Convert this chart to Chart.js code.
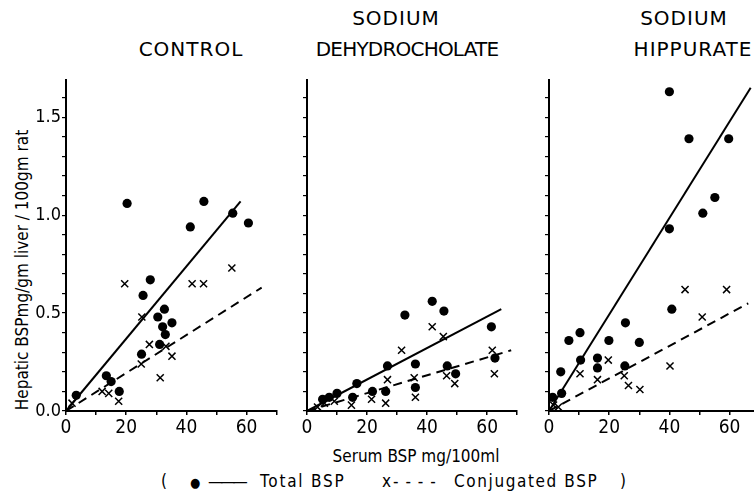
<!DOCTYPE html>
<html>
<head>
<meta charset="utf-8">
<script src="https://cdn.jsdelivr.net/npm/chart.js@4.4.1/dist/chart.umd.min.js"></script>
<style>
  html, body { margin: 0; padding: 0; background: #fff; }
  body { width: 754px; height: 496px; position: relative; overflow: hidden; color: #000;
         font-family: 'DejaVu Sans Condensed', 'Liberation Sans Narrow', 'DejaVu Sans', sans-serif; }
  canvas { position: absolute; top: 0; }
  .ttl { position: absolute; width: 240px; text-align: center; font-family: 'DejaVu Sans', sans-serif;
         font-size: 20px; line-height: 20px; letter-spacing: 1px; white-space: nowrap; }
  .ylab { position: absolute; width: 340px; height: 20px; line-height: 20px; text-align: center;
          font-size: 17px; white-space: nowrap; transform: rotate(-90deg); }
  .xlab { position: absolute; width: 300px; text-align: center; font-size: 17px; line-height: 18px; white-space: nowrap; }
  .leg { position: absolute; top: 472px; font-size: 17px; line-height: 18px; white-space: pre; letter-spacing: 0.6px; }
</style>
</head>
<body>
<div class="ttl" style="left:71px;top:39px">CONTROL</div>
<div class="ttl" style="left:276px;top:8px">SODIUM</div>
<div class="ttl" style="left:287px;top:39px;letter-spacing:-0.8px">DEHYDROCHOLATE</div>
<div class="ttl" style="left:564px;top:8px">SODIUM</div>
<div class="ttl" style="left:573px;top:39px">HIPPURATE</div>
<div class="ylab" style="left:-148px;top:260px">Hepatic BSPmg/gm liver / 100gm rat</div>
<div class="xlab" style="left:266px;top:447px">Serum BSP mg/100ml</div>
<span class="leg" style="left:161px">(</span>
<span class="leg" style="left:190px;font-size:13px;top:474px">●</span>
<span class="leg" style="left:208px;letter-spacing:-3px">———</span>
<span class="leg" style="left:260px;letter-spacing:1.8px">Total BSP</span>
<span class="leg" style="left:382px">x</span>
<span class="leg" style="left:393px;letter-spacing:1px">- - - -</span>
<span class="leg" style="left:454px;letter-spacing:1.6px">Conjugated BSP</span>
<span class="leg" style="left:620px">)</span>

<canvas id="c1"></canvas>
<canvas id="c2"></canvas>
<canvas id="c3"></canvas>

<script>
// ── DADOS ─────────────────────────────────────────────────────────

const xTickValues = [0, 10, 20, 30, 40, 50, 60, 70];
const xTickLabels = [0, 20, 40, 60];
const yTickValues = [0, 0.1, 0.2, 0.3, 0.4, 0.5, 0.6, 0.7, 0.8, 0.9, 1.0, 1.1, 1.2, 1.3, 1.4, 1.5, 1.6];
const yTickLabels = [0, 0.5, 1.0, 1.5];

// control
const controlTotal = [[3.4,0.08],[13.4,0.18],[15.0,0.15],[17.7,0.10],[20.3,1.06],[25.1,0.29],[25.6,0.59],
  [28.0,0.67],[30.5,0.48],[31.1,0.34],[32.1,0.43],[32.7,0.52],[33.0,0.39],[35.2,0.45],[41.3,0.94],
  [45.8,1.07],[55.4,1.01],[60.6,0.96]];
const controlConj = [[2.0,0.04],[12.0,0.10],[14.2,0.09],[17.5,0.05],[19.5,0.65],[25.2,0.48],[25.0,0.24],
  [27.7,0.34],[31.3,0.17],[33.2,0.33],[35.2,0.28],[41.9,0.65],[45.7,0.65],[55.1,0.73]];
const controlTotalFit = [[0,0],[58,1.07]];
const controlConjFit = [[0,0],[65,0.63]];

// sodium dehydrocholate
const dehydroTotal = [[5.2,0.06],[7.4,0.07],[10.0,0.09],[15.2,0.07],[16.6,0.14],[21.8,0.10],[26.2,0.10],
  [26.8,0.23],[32.6,0.49],[36.1,0.24],[36.1,0.12],[41.7,0.56],[45.6,0.51],[46.7,0.23],[49.5,0.19],
  [61.4,0.43],[62.6,0.27]];
const dehydroConj = [[3.5,0.02],[5.8,0.04],[9.1,0.05],[14.8,0.03],[21.5,0.06],[26.2,0.04],[26.8,0.16],
  [31.5,0.31],[35.7,0.17],[36.1,0.07],[41.7,0.43],[45.4,0.38],[46.5,0.18],[49.2,0.14],[61.7,0.31],[62.4,0.19]];
const dehydroTotalFit = [[0,0],[64.7,0.52]];
const dehydroConjFit = [[0,0],[68,0.31]];

// sodium hippurate
const hippTotal = [[1.2,0.07],[3.9,0.20],[4.2,0.09],[6.6,0.36],[10.3,0.40],[10.5,0.26],[16.1,0.27],
  [16.1,0.22],[19.9,0.36],[25.2,0.23],[25.4,0.45],[30.0,0.35],[40.0,1.63],[40.0,0.93],[40.8,0.52],
  [46.5,1.39],[51.1,1.01],[55.1,1.09],[59.7,1.39]];
const hippConj = [[1.5,0.03],[3.1,0.02],[10.3,0.19],[16.1,0.16],[19.7,0.26],[25.0,0.18],[26.4,0.13],
  [30.2,0.11],[40.2,0.23],[45.2,0.62],[50.9,0.48],[59.0,0.62]];
const hippTotalFit = [[0,0],[67,1.65]];
const hippConjFit = [[0,0],[66.2,0.55]];

// ── GRÁFICOS ──────────────────────────────────────────────────────

const FONT = "'DejaVu Sans Condensed', 'Liberation Sans Narrow', 'DejaVu Sans', sans-serif";
const AREA_TOP = 80, AREA_BOTTOM = 411;
const Y_W = 44, X_H = 40, PAD_R = 8;

function pts(arr) {
  return arr.map(p => ({ x: p[0], y: p[1] }));
}

function near(list, v) {
  return list.some(t => Math.abs(t - v) < 1e-6);
}

function mkPanel(id, left, right, total, conj, totalFit, conjFit, showY) {
  const cv = document.getElementById(id);
  const w = right - left;
  cv.width = Math.round(w + Y_W + PAD_R);
  cv.height = 496;
  cv.style.left = (left - Y_W) + 'px';

  const pad = { top: AREA_TOP, bottom: 496 - AREA_BOTTOM - X_H, left: 0, right: PAD_R };
  const chart = new Chart(cv, {
    type: 'scatter',
    data: {
      datasets: [
        { data: pts(totalFit), showLine: true, pointRadius: 0, borderColor: '#000', borderWidth: 2, clip: false },
        { data: pts(conjFit), showLine: true, pointRadius: 0, borderColor: '#000', borderWidth: 2,
          borderDash: [9, 6], clip: false },
        { data: pts(total), pointStyle: 'circle', pointRadius: 4.6, backgroundColor: '#000',
          borderColor: '#000', borderWidth: 0, clip: false },
        { data: pts(conj), pointStyle: 'crossRot', pointRadius: 5, backgroundColor: '#000',
          borderColor: '#000', borderWidth: 1.5, clip: false },
      ],
    },
    options: {
      responsive: false,
      animation: false,
      layout: { padding: pad },
      plugins: { legend: { display: false }, tooltip: { enabled: false } },
      scales: {
        x: {
          type: 'linear', min: 0, max: 70,
          afterFit: s => { s.height = X_H; },
          afterBuildTicks: a => { a.ticks = xTickValues.map(v => ({ value: v })); },
          grid: { drawOnChartArea: false, drawTicks: true, tickLength: 4, color: '#000', lineWidth: 1.5 },
          border: { display: true, color: '#000', width: 2 },
          ticks: {
            color: '#000', font: { family: FONT, size: 19 }, padding: 2, maxRotation: 0, autoSkip: false,
            callback: v => near(xTickLabels, v) ? String(v) : '',
          },
        },
        y: {
          type: 'linear', min: 0, max: 1.69,
          afterFit: s => { s.width = Y_W; },
          afterBuildTicks: a => { a.ticks = yTickValues.map(v => ({ value: v })); },
          grid: { drawOnChartArea: false, drawTicks: true, tickLength: 4, color: '#000', lineWidth: 1.2 },
          border: { display: true, color: '#000', width: 2 },
          ticks: {
            color: '#000', font: { family: FONT, size: 18 }, padding: 1, autoSkip: false,
            callback: v => (showY && near(yTickLabels, v)) ? v.toFixed(1) : '',
          },
        },
      },
    },
  });

  // ajustar a área do gráfico à posição do original
  const ca = chart.chartArea;
  chart.options.layout.padding = {
    top: pad.top + (AREA_TOP - ca.top),
    bottom: pad.bottom + (ca.bottom - AREA_BOTTOM),
    left: pad.left + (Y_W - ca.left),
    right: pad.right + (ca.right - (Y_W + w)),
  };
  chart.update();
  return chart;
}

mkPanel('c1', 66, 276.7, controlTotal, controlConj, controlTotalFit, controlConjFit, true);
mkPanel('c2', 306.5, 516.7, dehydroTotal, dehydroConj, dehydroTotalFit, dehydroConjFit, false);
mkPanel('c3', 549, 759.7, hippTotal, hippConj, hippTotalFit, hippConjFit, false);
</script>
</body>
</html>
